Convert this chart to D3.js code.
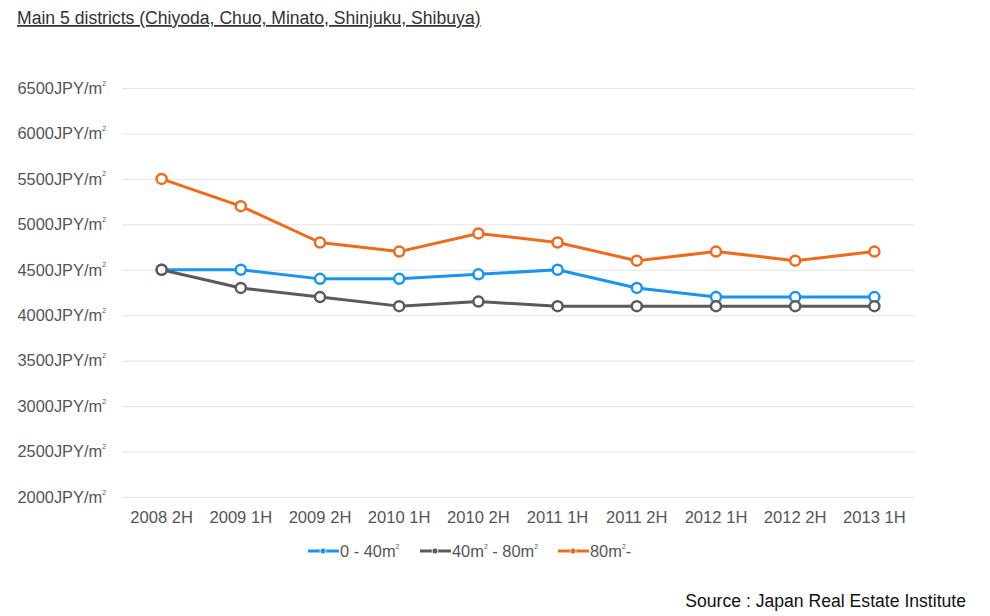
<!DOCTYPE html>
<html><head><meta charset="utf-8">
<script src="https://cdn.jsdelivr.net/npm/d3@7"></script>
<style>
body{margin:0;background:#fff;}
svg{display:block;font-family:"Liberation Sans",Arial,sans-serif;}
</style></head>
<body>
<svg id="c" width="990" height="616"></svg>
<script>
const categories = ["2008 2H","2009 1H","2009 2H","2010 1H","2010 2H","2011 1H","2011 2H","2012 1H","2012 2H","2013 1H"];
const small = [4500,4500,4400,4400,4450,4500,4300,4200,4200,4200];
const medium = [4500,4300,4200,4100,4150,4100,4100,4100,4100,4100];
const large = [5500,5200,4800,4700,4900,4800,4600,4700,4600,4700];
const seriesNames = ["0 - 40㎡","40㎡ - 80㎡","80㎡-"];
const yTicks = [2000,2500,3000,3500,4000,4500,5000,5500,6000,6500];

(function(){
const series = [
  {name: seriesNames[0], values: small, color: "#1a94ef"},
  {name: seriesNames[1], values: medium, color: "#5a5a5a"},
  {name: seriesNames[2], values: large, color: "#f06a1d"}
];

// renders a string where "㎡" is drawn as "m" + tiny superscript 2
function sqm(sel, str, fs) {
  sel.text(null);
  const parts = str.split("㎡");
  let pendingDy = 0;
  parts.forEach((p, i) => {
    if (p) {
      const t = sel.append("tspan").text(p);
      if (pendingDy) { t.attr("dy", pendingDy); pendingDy = 0; }
    }
    if (i < parts.length - 1) {
      const m = sel.append("tspan").text("m");
      if (pendingDy) { m.attr("dy", pendingDy); pendingDy = 0; }
      sel.append("tspan").attr("font-size", fs * 0.42).attr("dy", -fs * 0.5).text("2");
      pendingDy = fs * 0.5;
    }
  });
}

const svg = d3.select("#c");
const pL = 122, pR = 914, pT = 88, pB = 497;

const x = d3.scaleBand().domain(categories).range([pL, pR]);
const y = d3.scaleLinear().domain([2000, 6500]).range([pB, pT]);

// title
svg.append("text").attr("x", 17).attr("y", 24).attr("font-size", 17.6).attr("fill", "#333")
  .attr("text-decoration", "underline")
  .text("Main 5 districts (Chiyoda, Chuo, Minato, Shinjuku, Shibuya)");

// gridlines + y axis
const yAxis = d3.axisLeft(y).tickValues(yTicks).tickSize(-(pR - pL)).tickPadding(16)
  .tickFormat(d => d + "JPY/㎡");
const gy = svg.append("g").attr("transform", `translate(${pL},0)`).call(yAxis);
gy.select(".domain").remove();
gy.selectAll(".tick line").attr("stroke", "#e3e3e3").attr("stroke-width", 1);
gy.selectAll(".tick text").attr("font-size", 16.4).attr("fill", "#555")
  .attr("font-family", "'Liberation Sans',Arial,sans-serif")
  .each(function(d){ sqm(d3.select(this), d + "JPY/㎡", 16.4); });

// x axis
const xAxis = d3.axisBottom(x).tickSize(0).tickPadding(14);
const gx = svg.append("g").attr("transform", `translate(0,${pB})`).call(xAxis);
gx.select(".domain").remove();
gx.selectAll(".tick text").attr("font-size", 16.6).attr("fill", "#555")
  .attr("font-family", "'Liberation Sans',Arial,sans-serif");

const cx = d => x(d) + x.bandwidth() / 2;
const line = d3.line().x((d, i) => cx(categories[i])).y(d => y(d));

series.forEach(s => {
  svg.append("path").datum(s.values).attr("d", line).attr("fill", "none")
    .attr("stroke", s.color).attr("stroke-width", 3).attr("stroke-linejoin", "round");
  svg.selectAll(null).data(s.values).enter().append("circle")
    .attr("cx", (d, i) => cx(categories[i])).attr("cy", d => y(d)).attr("r", 5)
    .attr("fill", "#fff").attr("stroke", s.color).attr("stroke-width", 2.5);
});

// legend
const legendX = [308, 420, 558];
series.forEach((s, i) => {
  const g = svg.append("g").attr("transform", `translate(${legendX[i]},551)`);
  g.append("line").attr("x1", 0).attr("x2", 31).attr("y1", 0).attr("y2", 0)
    .attr("stroke", s.color).attr("stroke-width", 3);
  g.append("circle").attr("cx", 15).attr("cy", 0).attr("r", 3).attr("fill", s.color)
    .attr("stroke", "#fff").attr("stroke-width", 0.8);
  const t = g.append("text").attr("x", 32).attr("y", 6).attr("font-size", 16.4).attr("fill", "#555");
  sqm(t, s.name, 16.4);
});

// source
svg.append("text").attr("x", 966).attr("y", 607).attr("text-anchor", "end")
  .attr("font-size", 17.6).attr("fill", "#111").text("Source : Japan Real Estate Institute");
})();
</script>
</body></html>
